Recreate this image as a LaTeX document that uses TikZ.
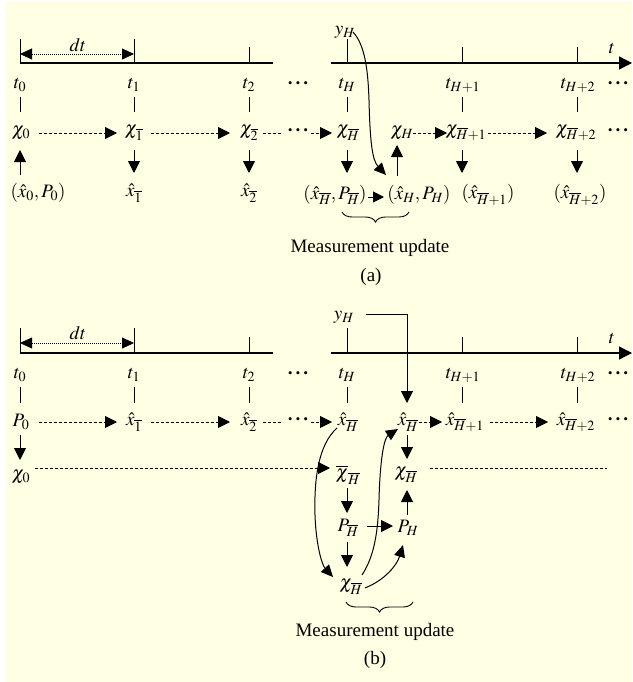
\documentclass[tikz,border=0pt]{standalone}
\usepackage{mathptmx}
\usepackage{fontspec}
\setmainfont{Liberation Serif}
\usetikzlibrary{arrows.meta,decorations.pathreplacing,calc}
\definecolor{bg}{RGB}{255,255,228}
\newcommand{\mydots}{{\bfseries\textperiodcentered\kern1.5pt\textperiodcentered\kern1.5pt\textperiodcentered}}
\begin{document}
\begin{tikzpicture}[x=1pt,y=-1pt,
  font=\fontsize{19}{22}\selectfont,
  lbl/.style={inner sep=0pt},
  arr/.style={line width=1pt,-{Triangle[length=12pt,width=12pt]}},
  sarr/.style={line width=1pt,-{Triangle[length=11pt,width=11pt]}},
  darr/.style={line width=0.9pt,dash pattern=on 3pt off 2pt,-{Triangle[length=12pt,width=12pt]}},
  dline/.style={line width=0.9pt,dash pattern=on 3pt off 2pt},
  dtarr/.style={line width=0.8pt,dash pattern=on 1pt off 1pt,{Triangle[length=12pt,width=11pt]}-{Triangle[length=12pt,width=11pt]}},
  axis/.style={line width=1.2pt},
  tickl/.style={line width=1pt},
  curve/.style={line width=1pt,-{Triangle[length=12pt,width=11pt]}},
  brc/.style={line width=0.9pt,decorate,decoration={brace,mirror,amplitude=10pt}}]
\fill[white] (0,0) rectangle (632,682);
\fill[bg] (6,2) rectangle (632,682);
\useasboundingbox (0,0) rectangle (632,682);

% ================= (a) =================
\coordinate (aL) at (20,63); \coordinate (aM) at (273,63);
\coordinate (aR0) at (331,63); \coordinate (aR) at (632,63);
\draw[axis] (aL) -- (aM);
\draw[axis,-{Triangle[length=13pt,width=13pt]}] (aR0) -- (aR);
\draw[tickl] (20,39) -- (20,63);
\draw[tickl] (134,39) -- (134,63);
\draw[tickl] (249,47) -- (249,63);
\draw[tickl] (347,39) -- (347,63);
\draw[tickl] (462,47) -- (462,63);
\draw[tickl] (577,47) -- (577,63);
\coordinate (dtaL) at (20,54); \coordinate (dtaR) at (134,54);
\draw[dtarr] (dtaL) -- (dtaR);
\node[lbl] (dta) at (78,45) {$dt$};
\node[lbl] (tta) at (612,48) {$t$};
\node[lbl] (yHa) at (345,32) {$y_H$};

\node[lbl] (ta0) at (20,85) {$t_0$};
\node[lbl] (ta1) at (134,85) {$t_1$};
\node[lbl] (ta2) at (249,85) {$t_2$};
\node[lbl] (tad) at (298,86) {\mydots};
\node[lbl] (taH) at (347,85) {$t_H$};
\node[lbl] (taH1) at (463,85) {$t_{H+1}$};
\node[lbl] (taH2) at (578,85) {$t_{H+2}$};
\node[lbl] (tad2) at (618,86) {\mydots};
\foreach \xx in {20,134,249,347,462,577}
  \draw[tickl] (\xx,97) -- (\xx,112);

\node[lbl] (ca0) at (21,133) {$\chi_0$};
\node[lbl] (ca1) at (134,133) {$\chi_{\overline{1}}$};
\node[lbl] (ca2) at (249,133) {$\chi_{\overline{2}}$};
\node[lbl] (cad) at (298,133) {\mydots};
\node[lbl] (caHb) at (348,133) {$\chi_{\overline{H}}$};
\node[lbl] (caH) at (402,133) {$\chi_H$};
\node[lbl] (caH1) at (466,133) {$\chi_{\overline{H}+1}$};
\node[lbl] (caH2) at (576,133) {$\chi_{\overline{H}+2}$};
\node[lbl] (cad2) at (618,133) {\mydots};

\draw[darr] ($(ca0)+(18,0)$) -- ($(ca1)+(-17,0)$);
\draw[darr] ($(ca1)+(17,0)$) -- ($(ca2)+(-19,0)$);
\draw[dline] ($(ca2)+(14,0)$) -- ($(ca2)+(33,0)$);
\draw[darr] ($(cad)+(13,0)$) -- ($(caHb)+(-16,0)$);
\draw[darr] ($(caH)+(11,0)$) -- ($(caH1)+(-19,0)$);
\draw[darr] ($(caH1)+(22,0)$) -- ($(caH2)+(-29,0)$);

\node[lbl] (xa0) at (38,193) {$(\hat{x}_0,P_0)$};
\node[lbl] (xa1) at (134,193) {$\hat{x}_{\overline{1}}$};
\node[lbl] (xa2) at (249,193) {$\hat{x}_{\overline{2}}$};
\node[lbl] (xaHb) at (335,195) {$(\hat{x}_{\overline{H}},P_{\overline{H}})$};
\node[lbl] (xaH) at (419,195) {$(\hat{x}_H,P_H)$};
\node[lbl] (xaH1) at (488,195) {$(\hat{x}_{\overline{H}+1})$};
\node[lbl] (xaH2) at (580,195) {$(\hat{x}_{\overline{H}+2})$};

\draw[arr] ($(xa0)+(-18,-18)$) -- ($(xa0)+(-18,-43)$);
\draw[arr] ($(ca1)+(0,17)$) -- ($(xa1)+(0,-20)$);
\draw[arr] ($(ca2)+(0,17)$) -- ($(xa2)+(0,-20)$);
\draw[arr] ($(caHb)+(-1,17)$) -- ($(caHb)+(-1,40)$);
\draw[arr] ($(taH1)+(-1,65)$) -- ($(taH1)+(-1,88)$);
\draw[arr] ($(taH2)+(-1,65)$) -- ($(taH2)+(-1,88)$);
\draw[arr] ($(caH)+(-5,43)$) -- ($(caH)+(-5,12)$);
\draw[sarr] ($(xaHb)+(33,2)$) -- ($(xaH)+(-35,2)$);
\draw[curve] ($(yHa)+(8,0)$) .. controls (365,45) and (368,70) .. (369,100)
   .. controls (370,140) and (372,160) .. ($(xaH)+(-33,-20)$);

\draw[brc] (342,212) -- (409,212);
\node[lbl] (mua) at (370,248) {Measurement update};
\node[lbl] (capa) at (371,277) {(a)};

% ================= (b) =================
\coordinate (bL) at (20,353); \coordinate (bM) at (273,353);
\coordinate (bR0) at (331,353); \coordinate (bR) at (632,353);
\draw[axis] (bL) -- (bM);
\draw[axis,-{Triangle[length=13pt,width=13pt]}] (bR0) -- (bR);
\draw[tickl] (20,328) -- (20,353);
\draw[tickl] (134,328) -- (134,353);
\draw[tickl] (249,337) -- (249,353);
\draw[tickl] (347,328) -- (347,353);
\draw[tickl] (462,337) -- (462,353);
\draw[tickl] (577,337) -- (577,353);
\coordinate (dtbL) at (20,343); \coordinate (dtbR) at (134,343);
\draw[dtarr] (dtbL) -- (dtbR);
\node[lbl] (dtb) at (78,333) {$dt$};
\node[lbl] (ttb) at (612,338) {$t$};
\node[lbl] (yHb) at (344,317) {$y_H$};

\node[lbl] (tb0) at (20,375) {$t_0$};
\node[lbl] (tb1) at (134,375) {$t_1$};
\node[lbl] (tb2) at (249,375) {$t_2$};
\node[lbl] (tbd) at (298,376) {\mydots};
\node[lbl] (tbH) at (347,375) {$t_H$};
\node[lbl] (tbH1) at (463,375) {$t_{H+1}$};
\node[lbl] (tbH2) at (578,375) {$t_{H+2}$};
\node[lbl] (tbd2) at (618,376) {\mydots};
\foreach \xx in {20,134,249,347,462,577}
  \draw[tickl] (\xx,387) -- (\xx,403);

\node[lbl] (P0) at (21,422) {$P_0$};
\node[lbl] (xb1) at (134,422) {$\hat{x}_{\overline{1}}$};
\node[lbl] (xb2) at (249,422) {$\hat{x}_{\overline{2}}$};
\node[lbl] (xbd) at (298,422) {\mydots};
\node[lbl] (xbH) at (348,422) {$\hat{x}_{\overline{H}}$};
\node[lbl] (xbHr) at (408,422) {$\hat{x}_{\overline{H}}$};
\node[lbl] (xbH1) at (465,422) {$\hat{x}_{\overline{H}+1}$};
\node[lbl] (xbH2) at (576,422) {$\hat{x}_{\overline{H}+2}$};
\node[lbl] (xbd2) at (618,422) {\mydots};

\draw[darr] ($(P0)+(18,0)$) -- ($(xb1)+(-17,0)$);
\draw[darr] ($(xb1)+(17,0)$) -- ($(xb2)+(-19,0)$);
\draw[dline] ($(xb2)+(14,0)$) -- ($(xb2)+(33,0)$);
\draw[darr] ($(xbd)+(13,0)$) -- ($(xbH)+(-16,0)$);
\draw[darr] ($(xbHr)+(11,0)$) -- ($(xbH1)+(-23,0)$);
\draw[darr] ($(xbH1)+(25,0)$) -- ($(xbH2)+(-28,0)$);

\coordinate (ycorner) at (407,314);
\draw[arr] ($(yHb)+(22,-3)$) -- (ycorner) -- ($(xbHr)+(-1,-19)$);

\node[lbl] (chi0) at (21,477) {$\chi_0$};
\node[lbl] (chibH) at (348,475) {$\overline{\chi}_{\overline{H}}$};
\node[lbl] (chiHr) at (406,475) {$\chi_{\overline{H}}$};
\node[lbl] (PbH) at (348,528) {$P_{\overline{H}}$};
\node[lbl] (PH) at (408,528) {$P_H$};
\node[lbl] (chiHb) at (351,587) {$\chi_{\overline{H}}$};

\draw[arr] ($(P0)+(-1,13)$) -- ($(P0)+(-1,38)$);
\draw[darr] ($(chi0)+(14,-9)$) -- ($(chibH)+(-18,-7)$);
\draw[dline] ($(chiHr)+(24,-7)$) -- ($(chiHr)+(201,-7)$);
\draw[arr] ($(xbHr)+(-1,13)$) -- ($(chiHr)+(1,-16)$);
\draw[arr] ($(chibH)+(-1,13)$) -- ($(PbH)+(-1,-15)$);
\draw[arr] ($(PbH)+(19,-2)$) -- ($(PH)+(-15,-2)$);
\draw[arr] ($(PH)+(-1,-13)$) -- ($(chiHr)+(1,15)$);
\draw[arr] ($(PbH)+(-1,14)$) -- ($(chiHb)+(-4,-20)$);

\draw[curve] ($(xbH)+(-11,6)$) .. controls (318,445) and (314,480) .. (315,515)
   .. controls (316,545) and (322,565) .. ($(chiHb)+(-18,-10)$);
\draw[curve] ($(chiHb)+(11,-12)$) .. controls (375,555) and (378,530) .. (379,500)
   .. controls (380,460) and (384,438) .. ($(xbHr)+(-10,7)$);
\draw[curve] ($(chiHb)+(14,1)$) .. controls (385,580) and (397,565) .. ($(PH)+(-5,17)$);

\draw[brc] (346,602) -- (413,602);
\node[lbl] (mub) at (375,632) {Measurement update};
\node[lbl] (capb) at (375,660) {(b)};
\end{tikzpicture}
\end{document}
